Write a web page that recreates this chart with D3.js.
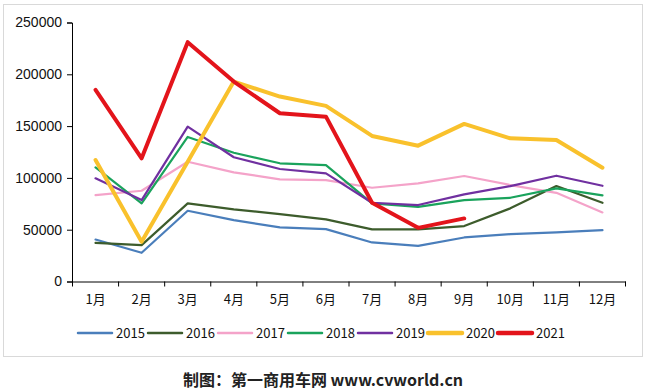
<!DOCTYPE html>
<html><head><meta charset="utf-8">
<script src="https://cdn.jsdelivr.net/npm/d3@7"></script>
<style>body{margin:0;background:#fff;} svg{display:block;}</style>
</head><body>
<svg id="c" width="650" height="390"></svg>
<script>
const months = ["1月","2月","3月","4月","5月","6月","7月","8月","9月","10月","11月","12月"];
const yTicks = [0, 50000, 100000, 150000, 200000, 250000];
const s2015 = [40500, 27700, 68300, 59300, 52200, 50600, 37700, 34400, 42500, 45700, 47400, 49600];
const s2016 = [37300, 35100, 75400, 69600, 65100, 59900, 50300, 50300, 53500, 70600, 92100, 76000];
const s2017 = [83400, 87600, 115600, 105400, 98600, 97900, 90500, 94700, 101800, 93100, 85600, 66700];
const s2018 = [110200, 75400, 139500, 124300, 114100, 112400, 75400, 72100, 78600, 80800, 89900, 83100];
const s2019 = [99600, 78600, 149500, 119900, 108600, 104400, 76000, 73800, 84100, 92100, 102100, 92400];
const s2020 = [117300, 38300, 115500, 193000, 178500, 169500, 140500, 131100, 152100, 138200, 136600, 109800];
const s2021 = [184900, 118900, 231000, 193000, 162400, 159100, 76000, 51800, 60900];
const seriesNames = ["2015","2016","2017","2018","2019","2020","2021"];
const seriesData = [s2015, s2016, s2017, s2018, s2019, s2020, s2021];
const colors = ["#4a7ebb","#3d5c2c","#f4a3c9","#1aa35c","#7030a0","#f9c12c","#e3141b"];
const widths = [2.2, 2.2, 2.2, 2.2, 2.2, 4, 4];

const svg = d3.select("#c");
// outer border
svg.append("rect").attr("x",3.5).attr("y",4.5).attr("width",639).attr("height",352)
  .attr("fill","none").attr("stroke","#d9d9d9").attr("stroke-width",1);

const x = d3.scaleBand().domain(months).range([72.5, 625.5]);
const y = d3.scaleLinear().domain([0, 250000]).range([281.5, 22.5]);

// y axis
const ya = svg.append("g").attr("transform","translate(72,0)")
  .call(d3.axisLeft(y).tickValues(yTicks).tickSize(5).tickFormat(d3.format("d")));
ya.select(".domain").attr("stroke","#000");
ya.selectAll(".tick line").attr("stroke","#000");
ya.selectAll("text").attr("font-family","'Liberation Sans', Arial, sans-serif")
  .attr("font-size",14).attr("fill","#111").attr("x",-10);

// x axis
const xa = svg.append("g").attr("transform","translate(0,281.5)")
  .call(d3.axisBottom(x).tickSize(0).tickSizeOuter(0));
xa.select(".domain").attr("stroke","#000");
xa.selectAll("text").attr("font-family","'Noto Sans CJK SC', sans-serif")
  .attr("font-size",13).attr("fill","#111").attr("dy",0).attr("y",22);
// tick marks at band boundaries
const bounds = months.map(m => x(m)).concat([x.range()[1]]);
xa.selectAll(".bt").data(bounds).enter().append("line")
  .attr("x1",d=>d).attr("x2",d=>d).attr("y1",0).attr("y2",5).attr("stroke","#000");

// lines
const line = d3.line().x((d,i)=>x(months[i]) + x.bandwidth()/2).y(d=>y(d));
seriesData.forEach((s,k)=>{
  svg.append("path").datum(s).attr("d",line).attr("fill","none")
    .attr("stroke",colors[k]).attr("stroke-width",widths[k])
    .attr("stroke-linejoin","round").attr("stroke-linecap","round");
});

// legend
const lg = svg.append("g");
seriesNames.forEach((n,k)=>{
  const x0 = 78 + k*70;
  lg.append("line").attr("x1",x0).attr("x2",x0+34).attr("y1",333).attr("y2",333)
    .attr("stroke",colors[k]).attr("stroke-width",k>=5?4.5:2.5).attr("stroke-linecap","round");
  lg.append("text").attr("x",x0+38).attr("y",337.5).text(n)
    .attr("font-family","'Noto Sans CJK SC', sans-serif").attr("font-size",13).attr("fill","#111");
});

// footer
svg.append("text").attr("x",323).attr("y",386).attr("text-anchor","middle")
  .attr("font-family","'Noto Sans CJK SC', sans-serif").attr("font-size",16).attr("font-weight","bold")
  .attr("fill","#222").text("制图：第一商用车网 www.cvworld.cn");
</script>
</body></html>
